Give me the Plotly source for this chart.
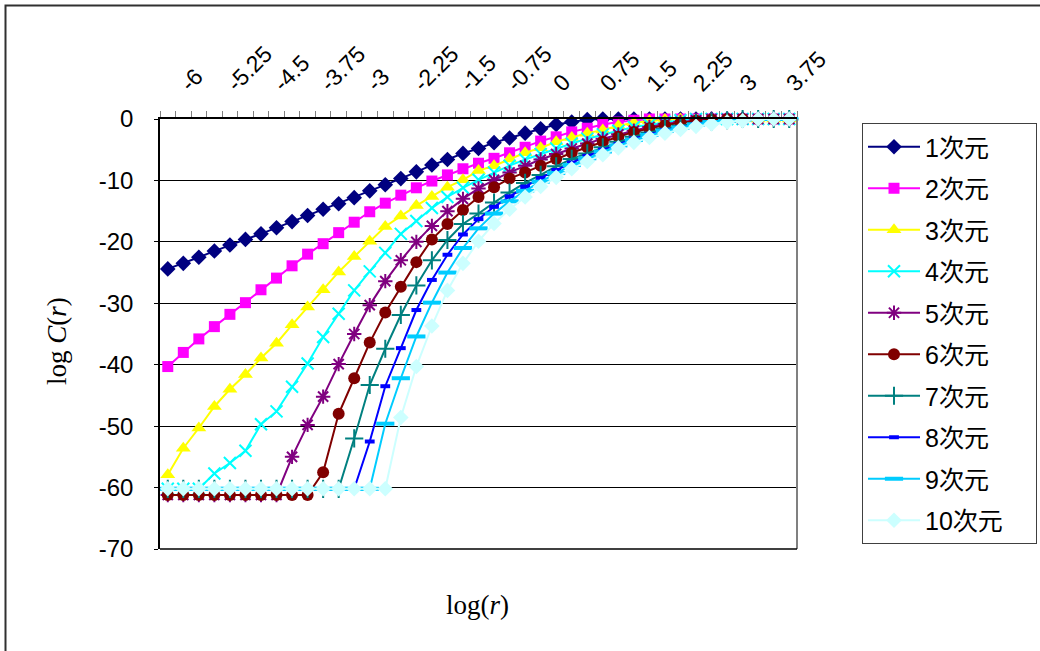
import plotly.graph_objects as go

# ---------------- data ----------------
log_r = [-6, -5.75, -5.5, -5.25, -5, -4.75, -4.5, -4.25, -4, -3.75, -3.5, -3.25, -3, -2.75,
         -2.5, -2.25, -2, -1.75, -1.5, -1.25, -1, -0.75, -0.5, -0.25, 0, 0.25, 0.5, 0.75,
         1, 1.25, 1.5, 1.75, 2, 2.25, 2.5, 2.75, 3, 3.25, 3.5, 3.75, 4]

tick_labels = ["-6", "-5.25", "-4.5", "-3.75", "-3", "-2.25", "-1.5", "-0.75",
               "0", "0.75", "1.5", "2.25", "3", "3.75"]
tick_positions = [-6, -5.25, -4.5, -3.75, -3, -2.25, -1.5, -0.75, 0, 0.75, 1.5, 2.25, 3, 3.75]

y_ticks = [0, -10, -20, -30, -40, -50, -60, -70]
y_tick_labels = ["0", "-10", "-20", "-30", "-40", "-50", "-60", "-70"]

dim1 = [-24.4, -23.5, -22.5, -21.5, -20.5, -19.6, -18.7, -17.7, -16.7, -15.7, -14.7, -13.8,
        -12.8, -11.7, -10.7, -9.7, -8.6, -7.5, -6.6, -5.6, -4.8, -3.85, -3.1, -2.3, -1.6,
        -0.9, -0.5, -0.1, 0, 0, 0, 0, 0, 0, 0, 0, 0, 0, 0, 0, 0]
dim2 = [-40.3, -38.0, -35.8, -33.8, -31.8, -29.9, -27.8, -25.9, -23.9, -22.0, -20.3, -18.5,
        -16.8, -15.1, -13.7, -12.4, -11.2, -10.1, -9.1, -8.1, -7.2, -6.4, -5.5, -4.6, -3.6,
        -2.9, -2.1, -1.5, -0.9, -0.5, -0.2, 0, 0, 0, 0, 0, 0, 0, 0, 0, 0]
dim3 = [-57.9, -53.6, -50.3, -46.8, -44.0, -41.6, -38.9, -36.5, -33.5, -30.6, -27.8, -24.9,
        -22.4, -19.9, -17.5, -15.8, -14.1, -12.6, -11.1, -9.9, -8.4, -7.6, -6.5, -5.5, -4.7,
        -3.7, -3.0, -2.3, -1.8, -1.1, -0.6, -0.3, -0.1, 0, 0, 0, 0, 0, 0, 0, 0]
dim4 = [-60.2, -60.2, -60.2, -57.7, -56.0, -54.0, -49.7, -47.6, -43.6, -39.8, -35.5, -31.7,
        -27.9, -24.8, -21.8, -18.7, -16.6, -14.5, -12.7, -11.2, -9.9, -8.7, -7.6, -6.6, -5.7,
        -4.8, -4.0, -3.2, -2.5, -1.9, -1.3, -0.9, -0.5, -0.2, 0, 0, 0, 0, 0, 0, 0]
dim5 = [-61.2, -61.2, -61.2, -61.2, -61.2, -61.2, -61.2, -61.2, -55.0, -49.8, -45.2, -39.9,
        -35.0, -30.3, -26.4, -23.0, -20.0, -17.4, -15.0, -13.0, -11.3, -9.9, -8.7, -7.6, -6.6,
        -5.7, -4.8, -4.0, -3.2, -2.5, -1.9, -1.3, -0.8, -0.5, -0.2, 0, 0, 0, 0, 0, 0]
dim6 = [-61.2, -61.2, -61.2, -61.2, -61.2, -61.2, -61.2, -61.2, -61.2, -61.2, -57.5, -48.0,
        -42.2, -36.4, -31.5, -27.3, -23.3, -19.6, -17.1, -14.8, -12.7, -11.1, -9.7, -8.7, -7.6,
        -6.5, -5.5, -4.6, -3.7, -2.9, -2.1, -1.5, -1.0, -0.6, -0.3, -0.1, 0, 0, 0, 0, 0]
dim7 = [-60.2, -60.2, -60.2, -60.2, -60.2, -60.2, -60.2, -60.2, -60.2, -60.2, -60.2, -60.2,
        -52.0, -43.3, -37.4, -31.9, -27.1, -23.0, -19.7, -17.1, -15.4, -13.6, -11.95, -10.4, -9.1,
        -7.7, -6.5, -5.6, -4.6, -3.7, -2.9, -2.2, -1.6, -1.1, -0.7, -0.4, -0.2, 0, 0, 0, 0]
dim8 = [-60.2, -60.2, -60.2, -60.2, -60.2, -60.2, -60.2, -60.2, -60.2, -60.2, -60.2, -60.2,
        -60.2, -52.5, -43.5, -37.3, -31.1, -26.2, -22.1, -18.8, -16.3, -14.3, -12.6, -11.0, -9.6,
        -8.3, -7.1, -6.0, -5.0, -4.1, -3.2, -2.5, -1.8, -1.3, -0.8, -0.5, -0.2, 0, 0, 0, 0]
dim9 = [-60.2, -60.2, -60.2, -60.2, -60.2, -60.2, -60.2, -60.2, -60.2, -60.2, -60.2, -60.2,
        -60.2, -60.2, -49.6, -42.2, -35.4, -29.9, -25.0, -21.0, -17.8, -15.4, -13.4, -11.7, -10.2,
        -8.8, -7.5, -6.4, -5.3, -4.3, -3.4, -2.6, -1.9, -1.4, -0.9, -0.5, -0.3, -0.1, 0, 0, 0]
dim10 = [-60.2, -60.2, -60.2, -60.2, -60.2, -60.2, -60.2, -60.2, -60.2, -60.2, -60.2, -60.2,
         -60.2, -60.2, -60.2, -48.6, -40.3, -33.7, -27.9, -23.5, -19.9, -17.0, -14.7, -12.7, -11.0,
         -9.5, -8.1, -6.9, -5.8, -4.7, -3.8, -3.0, -2.3, -1.7, -1.2, -0.8, -0.5, -0.3, 0, 0, 0]

series_names = ["1次元", "2次元", "3次元", "4次元", "5次元", "6次元", "7次元", "8次元", "9次元", "10次元"]
series_values = [dim1, dim2, dim3, dim4, dim5, dim6, dim7, dim8, dim9, dim10]

# ---------------- styles ----------------
styles = [
    dict(color="#000080", symbol="diamond", size=12, lw=0),
    dict(color="#FF00FF", symbol="square", size=11, lw=0),
    dict(color="#FFFF00", symbol="triangle-up", size=13, lw=0),
    dict(color="#00FFFF", symbol="x-thin-open", size=12, lw=2),
    dict(color="#800080", symbol="asterisk-open", size=12, lw=2),
    dict(color="#800000", symbol="circle", size=12, lw=0),
    dict(color="#008080", symbol="cross-thin-open", size=13, lw=2),
    dict(color="#0000FF", symbol="line-ew-open", size=7, lw=4),
    dict(color="#00CCFF", symbol="line-ew-open", size=13, lw=4),
    dict(color="#CCFFFF", symbol="diamond", size=12, lw=0),
]

W, H = 1040, 651
L, R, T, B = 160, 243, 119, 102
PW, PH = W - L - R, H - T - B


def px(xp):
    return (xp - L) / PW


def py(yp):
    return (H - B - yp) / PH


fig = go.Figure()
for i, (name, vals, st) in enumerate(zip(series_names, series_values, styles)):
    marker = dict(symbol=st["symbol"], size=st["size"], color=st["color"])
    if st["lw"]:
        marker["line"] = dict(width=st["lw"], color=st["color"])
    else:
        marker["line"] = dict(width=0)
    fig.add_trace(go.Scatter(
        x=log_r, y=vals, name=name + "\u00a0" * 4, mode="lines+markers",
        line=dict(color=st["color"], width=2),
        marker=marker, cliponaxis=False, legendgroup=f"g{i}",
    ))

minor_ticks = [log_r[0] - 0.125 + 0.25 * k for k in range(len(log_r) + 1)]

fig.update_layout(
    width=W, height=H,
    margin=dict(l=L, r=R, t=T, b=B, autoexpand=False),
    paper_bgcolor="white", plot_bgcolor="white",
    font=dict(family="Liberation Sans, Arial, sans-serif", size=20, color="black"),
    showlegend=True,
    legend=dict(
        xref="container", yref="container",
        x=862 / W, y=1 - 123 / H, xanchor="left", yanchor="top",
        bordercolor="#404040", borderwidth=1, bgcolor="white",
        font=dict(size=25, family="Liberation Sans, Noto Sans CJK JP, sans-serif"),
        tracegroupgap=6, itemwidth=52, maxheight=620,
    ),
    xaxis=dict(
        side="top", range=[log_r[0] - 0.125, log_r[-1] + 0.125],
        tickmode="array", tickvals=tick_positions, ticktext=tick_labels,
        tickangle=-45, ticks="", showgrid=False, zeroline=False,
        showline=True, linecolor="black", linewidth=1.5,
        tickfont=dict(size=23), ticklabelstandoff=12, ticklabelshift=14,
        minor=dict(tickmode="array", tickvals=minor_ticks, ticks="outside",
                   ticklen=6, tickcolor="#808080", tickwidth=1, showgrid=False),
    ),
    yaxis=dict(
        range=[-70, 0], tickmode="array", tickvals=y_ticks, ticktext=y_tick_labels,
        showgrid=True, gridcolor="black", gridwidth=1, zeroline=False,
        showline=True, linecolor="black", linewidth=1.5,
        ticks="outside", ticklen=4, tickcolor="black",
        ticklabelstandoff=16, tickfont=dict(size=24),
    ),
)

# borders
fig.add_shape(type="line", xref="paper", yref="paper", x0=1, x1=1, y0=0, y1=1,
              line=dict(color="#808080", width=2))
fig.add_shape(type="line", xref="paper", yref="paper", x0=0, x1=1, y0=0, y1=0,
              line=dict(color="black", width=1.5))
fig.add_shape(type="rect", xref="paper", yref="paper",
              x0=px(5.5), x1=px(1060), y0=py(5.5), y1=py(670),
              line=dict(color="#303030", width=2), layer="below")

# axis titles
fig.add_annotation(xref="paper", yref="paper", x=px(57), y=py(341),
                   xanchor="center", yanchor="middle",
                   text="log <i>C</i>(<i>r</i>)", textangle=-90, showarrow=False,
                   font=dict(family="Liberation Serif, Times New Roman, serif", size=27))
fig.add_annotation(xref="paper", yref="paper", x=px(477), y=py(605),
                   xanchor="center", yanchor="middle",
                   text="log(<i>r</i>)", showarrow=False,
                   font=dict(family="Liberation Serif, Times New Roman, serif", size=27))

fig.write_html("out.html")
